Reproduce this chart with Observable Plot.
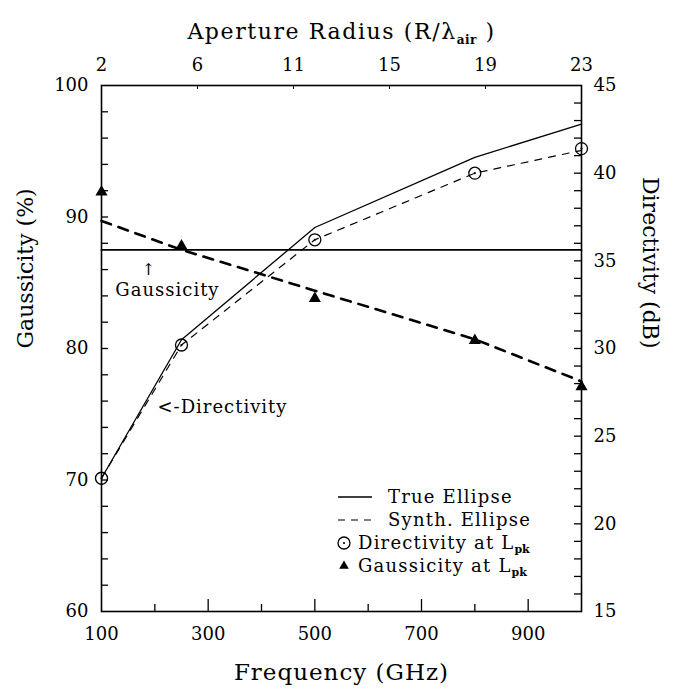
<!DOCTYPE html>
<html><head><meta charset="utf-8">
<script src="https://cdn.jsdelivr.net/npm/d3@7"></script>
<script src="https://cdn.jsdelivr.net/npm/@observablehq/plot@0.6"></script>
<style>
body{margin:0;background:#fff;}
#chart svg{font-family:"DejaVu Serif",serif;}
</style></head><body><div id="chart"></div>
<script>
// ---- data ----
const freqs      = [100, 250, 500, 800, 1000];          // GHz
const dirTrue    = [22.6, 30.5, 36.9, 40.9, 42.8];      // dB, True Ellipse (solid)
const dirSynth   = [22.6, 30.2, 36.2, 40.0, 41.3];      // dB, Synth. Ellipse (dashed)
const dirPk      = [22.6, 30.2, 36.2, 40.0, 41.4];      // dB, Directivity at Lpk (circles)
const gaussTrue  = [87.5, 87.5, 87.5, 87.5, 87.5];      // %, True Ellipse gaussicity
const gaussSynth = [89.7, 87.5, 84.4, 80.7, 77.5];      // %, Synth. Ellipse gaussicity (dashed)
const gaussPk    = [91.9, 87.8, 83.8, 80.6, 77.1];      // %, Gaussicity at Lpk (triangles)

const freqTicks      = [100, 300, 500, 700, 900];
const freqMinorTicks = [200, 400, 600, 800];
const gaussTicks     = [60, 70, 80, 90, 100];
const dirTicks       = [15, 20, 25, 30, 35, 40, 45];
const radiusTickFreqs = [100, 280, 460, 640, 820, 1000];
const radiusLabels    = ["2", "6", "11", "15", "19", "23"];

const noteTexts  = ["Gaussicity", "<-Directivity"];
const noteFreqs  = [126, 205];
const noteValues = [84.4, 75.5];
const arrowFreq = 188, arrowValue = 86.0;

const legendLabels = ["True Ellipse", "Synth. Ellipse", "Directivity at L", "Gaussicity at L"];

// ---- layout ----
const W = 679, H = 695, mL = 101, mR = 98, mT = 85, mB = 84;
const iw = W - mL - mR, ih = H - mT - mB;

// right axis (dB) mapped onto the gaussicity (%) y scale
const toG = d => 60 + (d - 15) * 40 / 30;
const fromG = g => 15 + (g - 60) * 30 / 40;

const rows = freqs.map((f, i) => ({
  f, dT: toG(dirTrue[i]), dS: toG(dirSynth[i]), dP: toG(dirPk[i]),
  gT: gaussTrue[i], gS: gaussSynth[i], gP: gaussPk[i]
}));
const notes = noteTexts.map((t, i) => ({t, f: noteFreqs[i], v: noteValues[i]}));

const chart = Plot.plot({
  width: W, height: H,
  marginLeft: mL, marginRight: mR, marginTop: mT, marginBottom: mB,
  x: {domain: [100, 1000]},
  y: {domain: [60, 100]},
  style: {fontFamily: "DejaVu Serif", fontSize: "18px", color: "#000", background: "#fff", overflow: "visible"},
  marks: [
    Plot.axisY({ticks: gaussTicks, tickSize: 0, tickPadding: 13, label: null, fontSize: 18}),
    Plot.axisY({anchor: "right", ticks: dirTicks.map(toG), tickFormat: g => String(Math.round(fromG(g))), tickSize: 0, tickPadding: 12, label: null, fontSize: 18}),
    Plot.axisX({ticks: freqTicks, tickSize: 0, tickPadding: 16, label: null, fontSize: 18}),
    Plot.axisX({anchor: "top", ticks: radiusTickFreqs, tickFormat: (d, i) => radiusLabels[i], tickSize: 0, tickPadding: 15, label: null, fontSize: 18}),
    // inward ticks
    Plot.tickY(d3.range(62, 100, 2), {y: d => d, insetRight: iw - 7, strokeWidth: 1.3}),
    Plot.tickY(d3.range(16, 45, 1).map(toG), {y: d => d, insetLeft: iw - 7, strokeWidth: 1.3}),
    Plot.tickX(freqTicks.slice(1), {x: d => d, insetTop: ih - 12, strokeWidth: 1.3}),
    Plot.tickX(freqMinorTicks, {x: d => d, insetTop: ih - 7, strokeWidth: 1.3}),
    Plot.tickX(radiusTickFreqs.slice(1, -1), {x: d => d, insetBottom: ih - 4, strokeWidth: 1}),
    Plot.frame({strokeWidth: 1.6}),
    // data
    Plot.line(rows, {x: "f", y: "gT", strokeWidth: 1.8}),
    Plot.line(rows, {x: "f", y: "gS", strokeWidth: 2.6, strokeDasharray: "10,8"}),
    Plot.line(rows, {x: "f", y: "dT", strokeWidth: 1.3}),
    Plot.line(rows, {x: "f", y: "dS", strokeWidth: 1.2, strokeDasharray: "7,7"}),
    Plot.dot(rows, {x: "f", y: "dP", r: 6, stroke: "black", strokeWidth: 1.3, fill: "none"}),
    Plot.dot(rows, {x: "f", y: "dP", r: 1.1, fill: "black", stroke: null}),
    Plot.dot(rows, {x: "f", y: "gP", symbol: "triangle", r: 4.5, fill: "black", stroke: null}),
    // annotations
    Plot.text(notes, {x: "f", y: "v", text: "t", textAnchor: "start", fontSize: 18, className: "notes"}),
    Plot.text(["↑"], {x: () => arrowFreq, y: () => arrowValue, text: d => d, fontSize: 16}),
    // titles
    Plot.text(["Frequency (GHz)"], {frameAnchor: "bottom", dy: 68, text: d => d, fontSize: 23, className: "xtitle"}),
    Plot.text(["Gaussicity (%)"], {frameAnchor: "left", dx: -76, rotate: -90, text: d => d, fontSize: 22}),
    Plot.text(["Directivity (dB)"], {frameAnchor: "right", dx: 69, rotate: 90, text: d => d, fontSize: 22}),
    Plot.text(["Aperture Radius (R/λ"], {frameAnchor: "top", dy: -62, text: d => d, fontSize: 22, className: "toptitle"})
  ]
});
document.getElementById("chart").appendChild(chart);

const svg = d3.select(chart);
svg.selectAll(".notes text").attr("letter-spacing", "1");
svg.selectAll(".xtitle text").attr("letter-spacing", "1");

// title subscript
const tt = svg.select(".toptitle text");
const base = tt.text();
tt.text(null).attr("letter-spacing", "1.6");
tt.append("tspan").text(base);
tt.append("tspan").attr("dy", 5).attr("font-size", 12).attr("font-weight", "bold").attr("letter-spacing", "0.5").text("air");
tt.append("tspan").attr("dy", -5).text(" )");

// legend
const lg = svg.append("g")
  .attr("font-family", "DejaVu Serif").attr("font-size", 18)
  .attr("fill", "black").attr("text-anchor", "start");
const rowY = [497, 520, 543, 566];
lg.append("line").attr("x1", 338).attr("x2", 372).attr("y1", rowY[0]).attr("y2", rowY[0]).attr("stroke", "black").attr("stroke-width", 1.3);
lg.append("line").attr("x1", 338).attr("x2", 374).attr("y1", rowY[1]).attr("y2", rowY[1]).attr("stroke", "black").attr("stroke-width", 1.2).attr("stroke-dasharray", "7,6");
lg.append("circle").attr("cx", 344).attr("cy", rowY[2]).attr("r", 6).attr("fill", "none").attr("stroke", "black").attr("stroke-width", 1.3);
lg.append("circle").attr("cx", 344).attr("cy", rowY[2]).attr("r", 1.1).attr("fill", "black");
lg.append("path").attr("d", d3.symbol(d3.symbolTriangle, 40)()).attr("transform", `translate(344,${rowY[3]})`).attr("fill", "black");
const lx = [388, 388, 358, 358];
legendLabels.forEach((t, i) => {
  const tx = lg.append("text").attr("x", lx[i]).attr("y", rowY[i]).attr("dy", "0.35em").attr("letter-spacing", "1.2");
  tx.append("tspan").text(t);
  if (i >= 2) {
    tx.append("tspan").attr("dy", 4).attr("font-size", 11).attr("font-weight", "bold").attr("letter-spacing", "0").text("pk");
  }
});
</script></body></html>
